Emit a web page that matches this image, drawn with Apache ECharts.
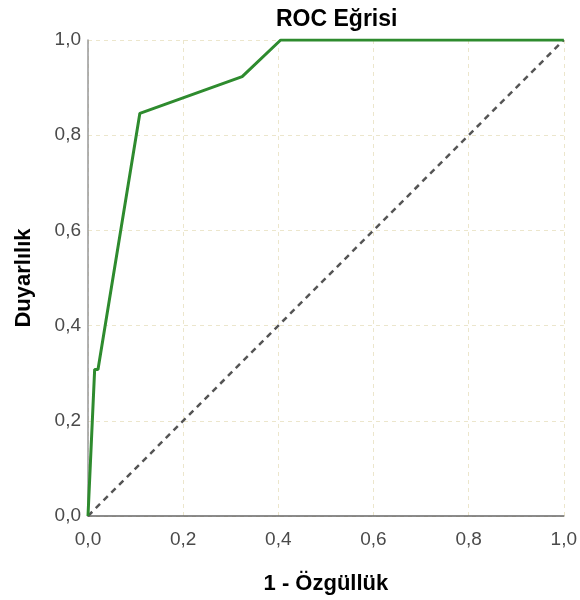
<!DOCTYPE html>
<html>
<head>
<meta charset="utf-8">
<script src="https://cdn.jsdelivr.net/npm/echarts@6/dist/echarts.min.js"></script>
<style>html,body{margin:0;padding:0;background:#fff}#c{width:580px;height:600px}</style>
</head>
<body>
<div id="c"></div>
<script>
var rocX = [0, 0.014, 0.021, 0.109, 0.324, 0.405, 1.0];
var rocY = [0, 0.308, 0.308, 0.846, 0.923, 1.0, 1.0];
var refX = [0, 1];
var refY = [0, 1];
var tickValues = [0, 0.2, 0.4, 0.6, 0.8, 1.0];

var chart = echarts.init(document.getElementById('c'), null, {renderer: 'canvas'});
function fmt(v) { return v.toFixed(1).replace('.', ','); }
var font = 'Liberation Sans, Arial, sans-serif';
chart.setOption({
  animation: false,
  title: {
    text: 'ROC Eğrisi', left: 271, top: 3,
    textStyle: {fontFamily: font, fontSize: 23, fontWeight: 'bold', color: '#000'}
  },
  grid: {left: 88, right: 14, top: 40, bottom: 82, containLabel: false},
  xAxis: {
    type: 'value', min: 0, max: 1, interval: 0.2,
    name: '1 - Özgüllük', nameLocation: 'middle', nameGap: 57,
    nameTextStyle: {fontFamily: font, fontSize: 22, fontWeight: 'bold', color: '#000'},
    axisLine: {show: true, lineStyle: {color: '#666', width: 1.5}},
    axisTick: {show: false},
    axisLabel: {formatter: fmt, fontFamily: font, fontSize: 19, color: '#4a4a4a', margin: 14},
    splitLine: {show: true, lineStyle: {color: '#ece6cc', type: [4, 4], width: 1}}
  },
  yAxis: {
    type: 'value', min: 0, max: 1, interval: 0.2,
    name: 'Duyarlılık', nameLocation: 'middle', nameGap: 53,
    nameTextStyle: {fontFamily: font, fontSize: 22, fontWeight: 'bold', color: '#000'},
    axisLine: {show: true, lineStyle: {color: '#999', width: 1.5}},
    axisTick: {show: false},
    axisLabel: {formatter: fmt, fontFamily: font, fontSize: 19, color: '#4a4a4a', margin: 7, padding: [4, 0, 0, 0]},
    splitLine: {show: true, lineStyle: {color: '#ece6cc', type: [4, 4], width: 1}}
  },
  series: [
    {
      type: 'line', data: refX.map(function (x, i) { return [x, refY[i]]; }),
      symbol: 'none', lineStyle: {color: '#555', width: 2.5, type: [6, 5]}, z: 2
    },
    {
      type: 'line', data: rocX.map(function (x, i) { return [x, rocY[i]]; }),
      symbol: 'none', lineStyle: {color: '#2e8b2e', width: 3}, z: 3
    }
  ]
});
</script>
</body>
</html>
